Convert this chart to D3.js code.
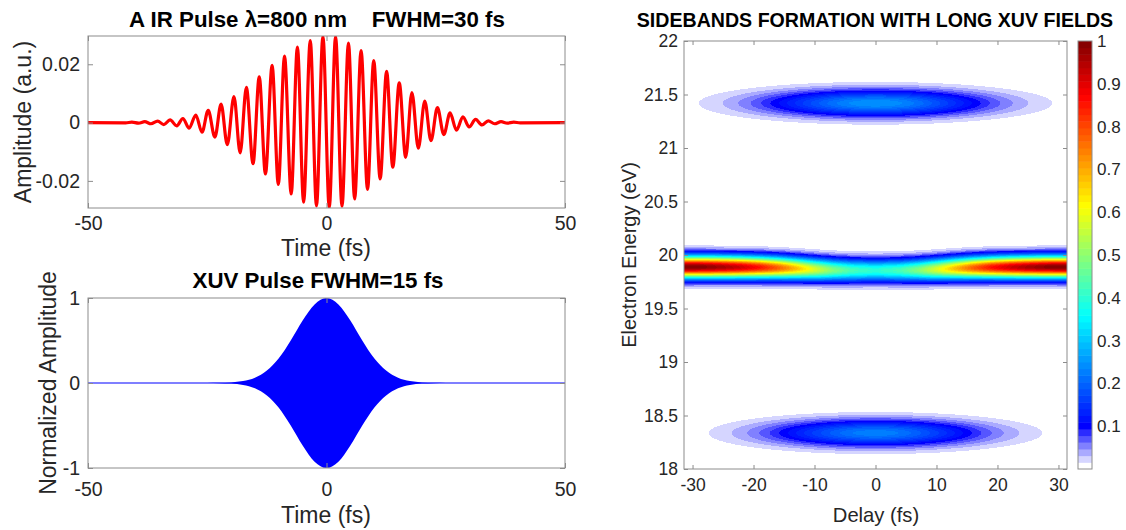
<!DOCTYPE html>
<html>
<head>
<meta charset="utf-8">
<script src="https://cdn.jsdelivr.net/npm/d3@7"></script>
<style>
  body { margin: 0; background: #fff; }
  svg text { font-family: "Liberation Sans", Arial, Helvetica, sans-serif; }
</style>
</head>
<body>
<svg id="fig" width="1126" height="530"></svg>
<script>
// ---- data ----

// IR field: extrema of the carrier (time fs, amplitude a.u.)
const irExtrema = [
  [-50,0],[-42.1,-0.0001],[-40.8,0.00015],[-39.4,-0.0002],[-38.1,0.0003],[-36.8,-0.0004],
  [-35.4,0.0005],[-34.1,-0.0007],[-32.8,0.0009],[-31.4,-0.0011],[-30.1,0.0014],[-28.8,-0.0019],
  [-27.4,0.0026],[-26.1,-0.0033],[-24.8,0.0042],[-23.4,-0.0050],[-22.1,0.0063],[-20.8,-0.0076],
  [-19.4,0.0089],[-18.1,-0.0104],[-16.8,0.0121],[-15.4,-0.0141],[-14.1,0.0157],[-12.8,-0.0176],
  [-11.4,0.0196],[-10.1,-0.0212],[-8.8,0.0228],[-7.4,-0.0245],[-6.1,0.0259],[-4.8,-0.0273],
  [-3.4,0.0281],[-2.1,-0.0286],[-0.75,0.0296],[0.58,-0.0292],[1.9,0.0295],[3.25,-0.0287],
  [4.6,0.0273],[5.9,-0.0262],[7.25,0.0247],[8.6,-0.0229],[9.9,0.0213],[11.25,-0.0193],
  [12.6,0.0176],[13.9,-0.0153],[15.25,0.0136],[16.6,-0.0119],[17.9,0.0103],[19.25,-0.0088],
  [20.6,0.0074],[21.9,-0.0062],[23.25,0.0051],[24.6,-0.0041],[25.9,0.0033],[27.25,-0.0026],
  [28.6,0.0020],[29.9,-0.0015],[31.25,0.0011],[32.6,-0.0008],[33.9,0.0006],[35.25,-0.0004],
  [36.6,0.0003],[37.9,-0.0002],[39.25,0.00015],[40.6,-0.0001],[50,0]
];

// XUV pulse: envelope of the normalized field
const xuvTime = [-50,-25,-22.5,-20,-17.5,-15,-12.5,-10,-7.5,-5,-2.5,0,2.5,5,7.5,10,12.5,15,17.5,20,22.5,25,50];
const xuvEnv  = [0,0.001,0.002,0.007,0.023,0.062,0.146,0.29,0.5,0.735,0.925,1,0.925,0.735,0.5,0.29,0.146,0.062,0.023,0.007,0.002,0.001,0];

// main photoline (~19.9 eV): peak, centre vs delay
const mainDelay  = [-31.4,-28,-25,-22,-19,-16,-13,-10,-7,-4,0,4,7,10,13,16,19,22,25,28,31.4];
const mainPeak   = [1.0,0.99,0.96,0.92,0.86,0.78,0.68,0.58,0.49,0.43,0.40,0.43,0.49,0.58,0.68,0.78,0.86,0.92,0.96,0.99,1.0];
const mainCenter = [19.888,19.888,19.887,19.886,19.884,19.880,19.874,19.866,19.86,19.856,19.855,19.856,19.86,19.866,19.874,19.880,19.884,19.886,19.887,19.888,19.888];
const mainWidth  = 0.07;   // eV (sigma)

// sidebands
const sbEnergy      = [21.418, 18.336];
const sbPeak        = [0.25, 0.23];
const sbDelayWidth  = [12.3, 11.8];   // fs (sigma)
const sbEnergyWidth = [0.085, 0.085]; // eV (sigma)

// ticks
const leftXTicks = [-50, 0, 50];
const irYTicks = [-0.02, 0, 0.02];
const xuvYTicks = [-1, 0, 1];
const delayTicks = [-30, -20, -10, 0, 10, 20, 30];
const energyTicks = [18, 18.5, 19, 19.5, 20, 20.5, 21, 21.5, 22];
const cbTicks = [0.1, 0.2, 0.3, 0.4, 0.5, 0.6, 0.7, 0.8, 0.9, 1];

const svg = d3.select("#fig");
const boxColor = "#8c8c8c", tickText = "#262626";

// inward ticks on all four sides + box, like matlab
function frame(x, y, xt, yt, o) {
  const g = svg.append("g");
  const [x0, x1] = x.range(), [y0, y1] = y.range();
  const style = sel => {
    sel.select(".domain").remove();
    sel.selectAll("line").attr("stroke", boxColor);
    sel.selectAll("text").attr("fill", tickText).style("font-size", o.fs + "px");
  };
  g.append("g").attr("transform", `translate(0,${y0})`)
    .call(d3.axisBottom(x).tickValues(xt).tickSize(-o.tl).tickPadding(o.xpad).tickFormat(String)).call(style);
  g.append("g").attr("transform", `translate(0,${y1})`)
    .call(d3.axisTop(x).tickValues(xt).tickSize(-o.tl).tickFormat("")).call(style);
  g.append("g").attr("transform", `translate(${x0},0)`)
    .call(d3.axisLeft(y).tickValues(yt).tickSize(-o.tl).tickPadding(o.ypad).tickFormat(String)).call(style);
  g.append("g").attr("transform", `translate(${x1},0)`)
    .call(d3.axisRight(y).tickValues(yt).tickSize(-o.tl).tickFormat("")).call(style);
  g.append("rect").attr("x", x0).attr("y", y1).attr("width", x1 - x0).attr("height", y0 - y1)
    .attr("fill", "none").attr("stroke", boxColor).attr("stroke-width", 1);
  return g;
}

function label(x, y, txt, size, rot, bold) {
  svg.append("text").attr("x", x).attr("y", y)
    .attr("transform", rot ? `rotate(-90,${x},${y})` : null)
    .attr("text-anchor", "middle").attr("fill", bold ? "#000" : tickText)
    .style("font-size", size + "px").style("font-weight", bold ? "bold" : "normal")
    .style("white-space", "pre").text(txt);
}

// ---------- IR pulse ----------
const x1 = d3.scaleLinear().domain([-50, 50]).range([88, 565]);
const y1 = d3.scaleLinear().domain([-0.0293, 0.0297]).range([208, 36]);
svg.append("clipPath").attr("id", "c1").append("rect")
  .attr("x", 88).attr("y", 36).attr("width", 477).attr("height", 172);
svg.append("path").datum(irExtrema)
  .attr("clip-path", "url(#c1)")
  .attr("fill", "none").attr("stroke", "#ff0000").attr("stroke-width", 3.2)
  .attr("d", d3.line().x(d => x1(d[0])).y(d => y1(d[1])).curve(d3.curveMonotoneX));
frame(x1, y1, leftXTicks, irYTicks, {fs: 19.5, tl: 5, xpad: 8, ypad: 8});
label(317, 27, "A IR Pulse λ=800 nm    FWHM=30 fs", 22.3, false, true);
label(326, 256, "Time (fs)", 23, false, false);
label(31, 122, "Amplitude (a.u.)", 23, true, false);

// ---------- XUV pulse ----------
const x2 = d3.scaleLinear().domain([-50, 50]).range([88, 565]);
const y2 = d3.scaleLinear().domain([-1, 1]).range([468, 298]);
const env = d3.zip(xuvTime, xuvEnv);
svg.append("line").attr("x1", x2(-50)).attr("x2", x2(50)).attr("y1", y2(0)).attr("y2", y2(0))
  .attr("stroke", "#0000ff").attr("stroke-width", 1.2);
svg.append("path").datum(env)
  .attr("fill", "#0000ff")
  .attr("d", d3.area().x(d => x2(d[0])).y0(d => y2(-d[1])).y1(d => y2(d[1])).curve(d3.curveMonotoneX));
frame(x2, y2, leftXTicks, xuvYTicks, {fs: 19.5, tl: 5, xpad: 14, ypad: 8});
label(318, 288, "XUV Pulse FWHM=15 fs", 22.3, false, true);
label(326, 523, "Time (fs)", 23, false, false);
label(56, 383, "Normalized Amplitude", 23, true, false);

// ---------- sidebands map ----------
const hx = d3.scaleLinear().domain([-31.4, 31.4]).range([684, 1067]);
const hy = d3.scaleLinear().domain([18, 22]).range([469, 41]);

// jet with the bottom levels fading to white
function jet(t) {
  const c = v => Math.max(0, Math.min(1, v));
  return d3.rgb(255 * c(1.5 - Math.abs(4 * t - 3)), 255 * c(1.5 - Math.abs(4 * t - 2)), 255 * c(1.5 - Math.abs(4 * t - 1)));
}
const nLev = 64;
const lut = d3.range(nLev).map(i => {
  if (i <= 6) return d3.rgb(d3.interpolateRgb("#ffffff", "#0000ff")(i / 6));
  const v = (i + 0.5) / nLev;
  return jet(0.125 + (v - 0.1) / 0.9 * 0.875);
});
const level = v => Math.max(0, Math.min(nLev - 1, Math.floor(v * nLev)));

const peakAt = d3.scaleLinear().domain(mainDelay).range(mainPeak).clamp(true);
const centerAt = d3.scaleLinear().domain(mainDelay).range(mainCenter).clamp(true);
const W = hx.range()[1] - hx.range()[0], H = hy.range()[0] - hy.range()[1];
const canvas = document.createElement("canvas");
canvas.width = W; canvas.height = H;
const ctx = canvas.getContext("2d");
const img = ctx.createImageData(W, H);
for (let j = 0; j < H; j++) {
  const E = hy.invert(hy.range()[1] + j + 0.5);
  for (let i = 0; i < W; i++) {
    const d = hx.invert(hx.range()[0] + i + 0.5);
    let v = peakAt(d) * Math.exp(-0.5 * Math.pow((E - centerAt(d)) / mainWidth, 2));
    for (let k = 0; k < sbEnergy.length; k++) {
      v += sbPeak[k] * Math.exp(-0.5 * Math.pow(d / sbDelayWidth[k], 2) - 0.5 * Math.pow((E - sbEnergy[k]) / sbEnergyWidth[k], 2));
    }
    const c = lut[level(v)], p = 4 * (j * W + i);
    img.data[p] = c.r; img.data[p + 1] = c.g; img.data[p + 2] = c.b; img.data[p + 3] = 255;
  }
}
ctx.putImageData(img, 0, 0);
svg.append("image").attr("x", hx.range()[0]).attr("y", hy.range()[1])
  .attr("width", W).attr("height", H).attr("preserveAspectRatio", "none")
  .attr("href", canvas.toDataURL());
frame(hx, hy, delayTicks, energyTicks, {fs: 17.5, tl: 4, xpad: 10, ypad: 6});
label(875, 27, "SIDEBANDS FORMATION WITH LONG XUV FIELDS", 19.6, false, true);
label(876, 522, "Delay (fs)", 20.2, false, false);
label(636, 255, "Electron Energy (eV)", 20, true, false);

// colorbar
const cb = d3.scaleLinear().domain([0, 1]).range([469, 41]);
const cbg = svg.append("g");
cbg.selectAll("rect.lev").data(lut).enter().append("rect").attr("class", "lev")
  .attr("x", 1078).attr("width", 14)
  .attr("y", (d, i) => cb((i + 1) / nLev)).attr("height", (d, i) => cb(i / nLev) - cb((i + 1) / nLev) + 0.5)
  .attr("fill", d => d.toString());
cbg.append("rect").attr("x", 1078).attr("y", 41).attr("width", 14).attr("height", 428)
  .attr("fill", "none").attr("stroke", boxColor);
cbg.selectAll("text").data(cbTicks).enter().append("text")
  .attr("x", 1097).attr("y", d => cb(d)).attr("dy", "0.35em")
  .attr("fill", tickText).style("font-size", "17px").text(String);
</script>
</body>
</html>
